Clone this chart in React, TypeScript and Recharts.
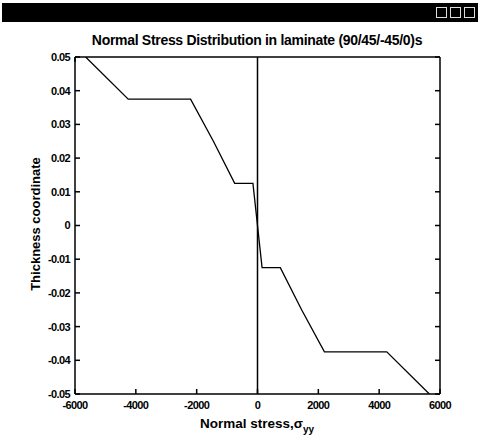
import { LineChart, Line, XAxis, YAxis, ReferenceLine } from 'recharts';

// stress (x) against thickness coordinate (y)
const stress = [-5650, -4250, -2200, -1450, -750, -150, 0, 150, 750, 1450, 2200, 4250, 5650];
const thickness = [0.05, 0.0375, 0.0375, 0.025, 0.0125, 0.0125, 0, -0.0125, -0.0125, -0.025, -0.0375, -0.0375, -0.05];

const xTicks = [-6000, -4000, -2000, 0, 2000, 4000, 6000];
const yTicks = [0.05, 0.04, 0.03, 0.02, 0.01, 0, -0.01, -0.02, -0.03, -0.04, -0.05];

const data = stress.map((s, i) => ({ s, z: thickness[i] }));

const W = 480;
const H = 441;
const font = 'Arial, "Liberation Sans", sans-serif';
const tickStyle = { fill: '#000', fontSize: 11, fontWeight: 700, fontFamily: font, letterSpacing: -0.6 };

const fmtY = (v: number) => (v === 0 ? '0' : v.toFixed(2));

export default function App() {
  return (
    <div style={{ position: 'absolute', left: 0, top: 0, width: W, height: H, background: '#fff' }}>
      <div style={{ position: 'absolute', left: 2, top: 3, width: 476, height: 19, background: '#000' }}>
        <div style={{ position: 'absolute', right: 3, top: 4, display: 'flex', gap: 3 }}>
          {[0, 1, 2].map((k) => (
            <div key={k} style={{ width: 9, height: 9, border: '1px solid #ddd' }} />
          ))}
        </div>
      </div>
      <LineChart
        width={W}
        height={H}
        data={data}
        margin={{ top: 47, right: 30, bottom: 17, left: 25 }}
        style={{ position: 'absolute', left: 0, top: 0 }}
      >
        <XAxis
          dataKey="s"
          type="number"
          domain={[-6000, 6000]}
          ticks={xTicks}
          height={30}
          tickSize={-5}
          tickMargin={12}
          stroke="#000"
          strokeWidth={1.5}
          tick={tickStyle}
          allowDataOverflow
        />
        <XAxis
          xAxisId="top"
          orientation="top"
          type="number"
          domain={[-6000, 6000]}
          ticks={xTicks}
          height={10}
          tickSize={-5}
          stroke="#000"
          strokeWidth={1.5}
          tickFormatter={() => ''}
          allowDataOverflow
        />
        <YAxis
          dataKey="z"
          type="number"
          domain={[-0.05, 0.05]}
          ticks={yTicks}
          width={50}
          tickSize={-5}
          tickMargin={10}
          stroke="#000"
          strokeWidth={1.5}
          tick={tickStyle}
          tickFormatter={fmtY}
          allowDataOverflow
        />
        <YAxis
          yAxisId="right"
          orientation="right"
          type="number"
          domain={[-0.05, 0.05]}
          ticks={yTicks}
          width={10}
          tickSize={-5}
          stroke="#000"
          strokeWidth={1.5}
          tickFormatter={() => ''}
          allowDataOverflow
        />
        <ReferenceLine x={0} stroke="#000" strokeWidth={1.5} />
        <Line
          dataKey="z"
          stroke="#000"
          strokeWidth={1.3}
          dot={false}
          isAnimationActive={false}
          type="linear"
        />
      </LineChart>
      <svg width={W} height={H} style={{ position: 'absolute', left: 0, top: 0, pointerEvents: 'none' }}>
        <text
          x={257}
          y={45}
          textAnchor="middle"
          fontFamily={font}
          fontSize={14}
          fontWeight={700}
          letterSpacing={-0.3}
        >
          Normal Stress Distribution in laminate (90/45/-45/0)s
        </text>
        <text
          x={40}
          y={224}
          textAnchor="middle"
          fontFamily={font}
          fontSize={13}
          fontWeight={700}
          transform="rotate(-90 40 224)"
        >
          Thickness coordinate
        </text>
        <text x={257} y={428} textAnchor="middle" fontFamily={font} fontSize={13.5} fontWeight={700}>
          Normal stress,σ
          <tspan fontSize={10} dy={5}>yy</tspan>
        </text>
      </svg>
    </div>
  );
}
